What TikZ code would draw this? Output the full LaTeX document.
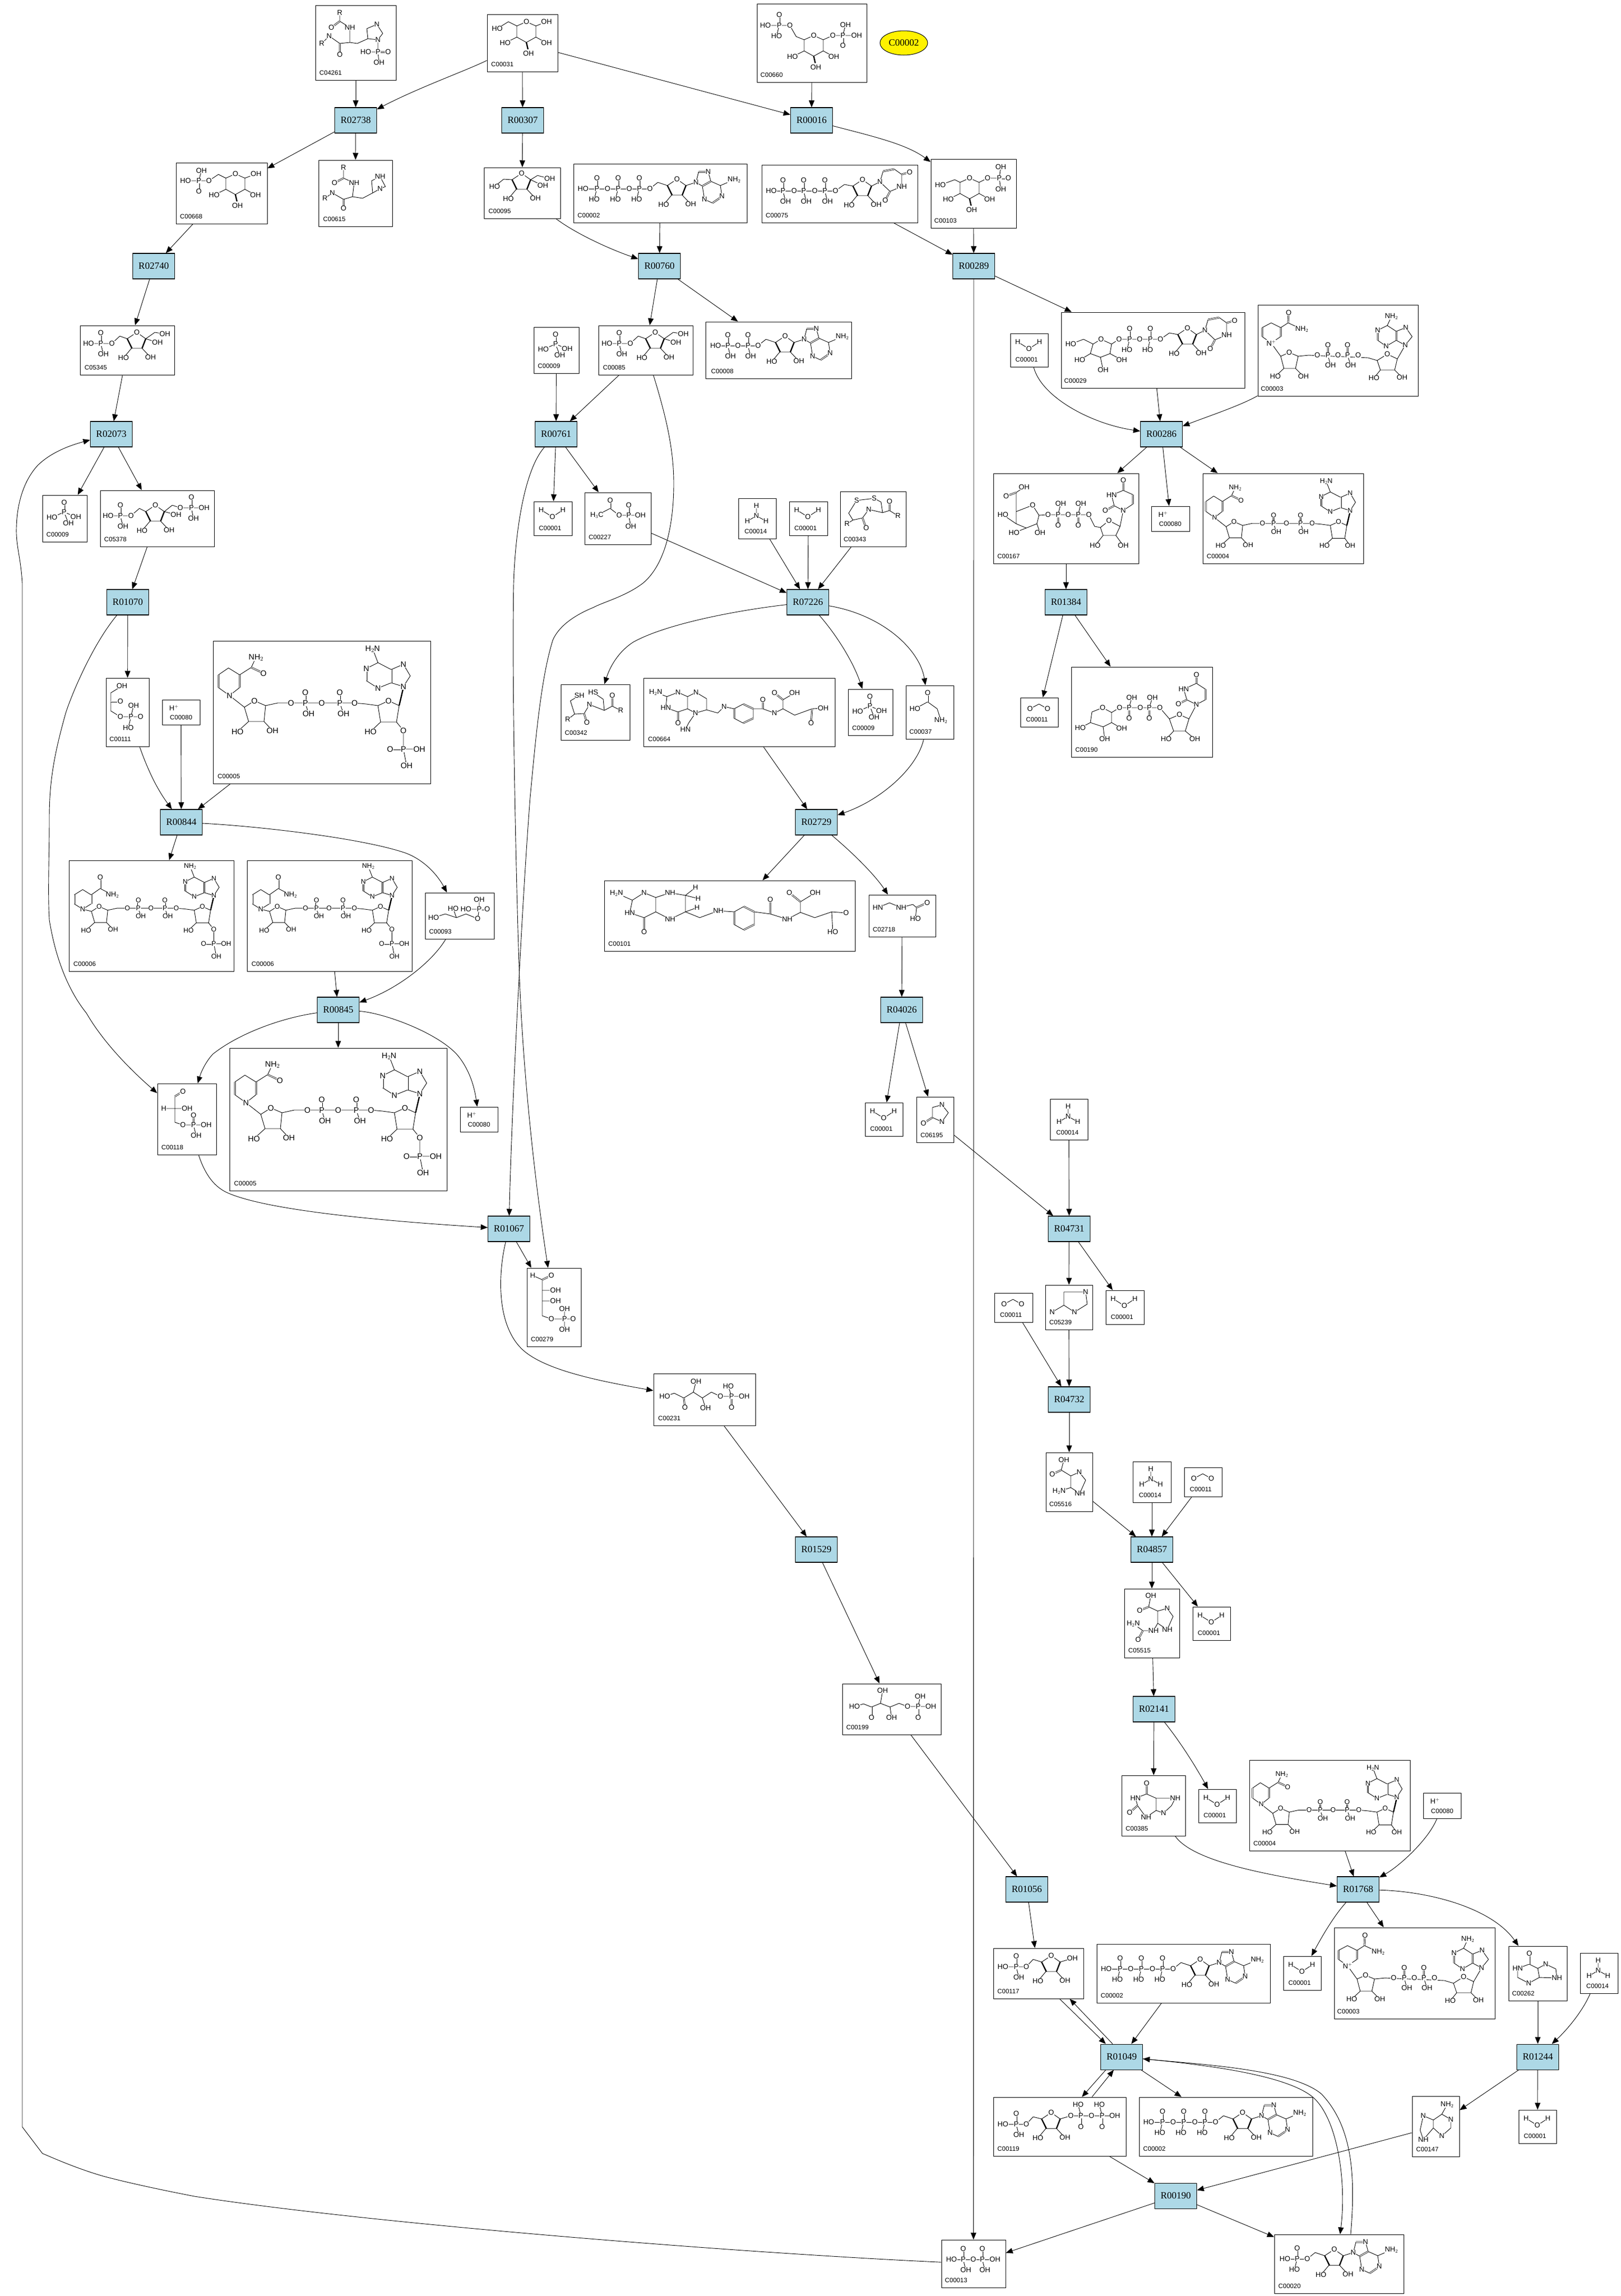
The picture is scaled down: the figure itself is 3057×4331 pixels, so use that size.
\documentclass[tikz,border=0pt]{standalone}
\usepackage{fontspec}
\setmainfont{Liberation Serif}
\setsansfont{Liberation Sans}
\usetikzlibrary{arrows.meta,shapes.geometric}
\newcounter{atomc}
\newcommand{\atomsize}{13.5}
\tikzset{
  rxn/.style={draw,fill=rxnblue,line width=1.1pt,minimum width=79pt,minimum height=48pt,inner sep=0pt,font=\rmfamily\fontsize{18}{20}\selectfont},
  compound/.style={draw,fill=white,line width=1pt,inner sep=0pt},
  idlab/.style={anchor=west,inner sep=0pt,font=\sffamily\fontsize{12}{13}\selectfont},
  atom/.style={transform shape,fill=white,inner sep=.4pt,font=\sffamily\fontsize{\atomsize}{14}\selectfont},
  bond/.style={line width=.9pt},
  dbl/.style={double,double distance=1.4pt,line width=.8pt},
  wedgeb/.style={line width=2.4pt},
  link/.style={->,line width=.9pt}
}
\definecolor{rxnblue}{HTML}{ADD8E6}
% box with its number in the corner
\newcommand{\cpd}[7][8]{%
  \node[compound,minimum width={(#5-#3)*1pt},minimum height={(#6-#4)*1pt}] (#2) at ({(#3+#5)/2},{(#4+#6)/2}) {};
  \node[idlab] (#2id) at ([xshift=#1pt,yshift=14pt]#2.south west) {#7};}
% drawing: origin, scale, bonds, atoms
\newcommand{\mol}[5]{\begin{scope}[shift={(#1,#2)},scale=#3]
  \draw[bond] #4;
  \foreach \ax/\ay/\atxt in {#5} {\stepcounter{atomc}\node[atom] (atom\theatomc) at (\ax,\ay) {\atxt};}
  \end{scope}}
\newcommand{\pgroup}[4]{\mol{#1}{#2}{1}{(0,0)--(#3,20); \draw[dbl] (0,0)--(0,-20)}{0/0/P,0/-20/O,#3/20/#4}}
% Fragments
\newcommand{\pyranose}[2]{\mol{#1}{#2}{1}{(0,0)--(18,8)--(18,29)--(0,39)--(-18,29)--(-18,8)--cycle (18,29)--(38,40) (-18,29)--(-40,40); \draw[wedgeb] (0,39)--(3,52)}{0/0/O,-40/40/HO,38/40/OH,4/60/OH}}
\newcommand{\furanose}[2]{\mol{#1}{#2}{1}{(0,0)--(17,12)--(10,30)--(-10,30)--(-18,12)--cycle (-10,30)--(-25,48) (10,30)--(26,47); \draw[wedgeb] (-18,12)--(-9,30) (17,12)--(10,30)}{0/0/O,-25/48/HO,26/47/OH}}
\newcommand{\adenosine}[2]{\mol{#1}{#2}{1}{(0,0)--(15,-12)--(33,-6) (68,-6)--(87,-12)--(92,-32)--(110,-32)--(115,-14)--(99,-5)--(87,-12) (99,-5)--(103,20)--(118,27)--(136,14)--(133,-6)--(115,-14) (133,-6)--(159,-17); \draw[dbl] (92,-32)--(108,-32) (115,-14)--(99,-5) (118,27)--(134,16)}{0/0/O,87/-12/N,110/-32/N,103/20/N,136/14/N,159/-17/NH$_2$}\furanose{#1+51}{#2-18}}
\newcommand{\uridine}[2]{\mol{#1}{#2}{1}{(0,0)--(17,-12)--(33,-9) (68,-9)--(84,-17) (84,-17)--(90,-37) (111,-41)--(125,-31)--(125,-8)--(103,1)--(84,-17); \draw[dbl] (90,-37)--(111,-41) (103,1)--(94,18) (125,-31)--(140,-35)}{0/0/O,84/-17/N,125/-8/NH,94/18/O,140/-35/O}\furanose{#1+51}{#2-21}}
\newcommand{\nadbody}[1]{\mol{0}{0}{1}{(59,125)--(78,113)--(99,122)--(96,152)--(67,152)--(59,125) (67,152)--(46,171) (96,152)--(112,169) (99,122)--(122,117)--(147,117)--(267,117)--(289,119)--(311,122)--(331,113)--(351,122)--(346,153)--(316,153)--(311,122) (316,153)--(297,171) (351,122)--(359,86)--(372,66)--(359,44)--(336,54)--(336,79)--(359,86) (336,79)--(311,89)--(289,75)--(289,52)--(311,41)--(336,54) (311,41)--(301,15); \draw[wedgeb] (351,122)--(358,92); \draw[dbl] (336,54)--(336,79) (289,75)--(289,52)}{78/113/O,46/171/HO,112/169/OH,147/117/O,205/117/O,267/117/O,331/113/O,297/171/HO,359/86/N,359/44/N,311/89/N,289/52/N,301/15/#1}\pgroup{174}{117}{6}{OH}\pgroup{239}{117}{7}{OH}}
\newcommand{\nadhead}{\mol{0}{0}{1}{(31,103)--(59,125) (50,64)--(29,51)--(10,64) (10,88)--(31,103)--(50,88) (50,64)--(72,50)--(81,31); \draw[dbl] (10,64)--(10,88) (50,64)--(50,88) (72,50)--(95,61)}{31/103/N,81/31/NH$_2$,95/61/O}}
\newcommand{\nadtailP}{\mol{0}{0}{1}{(346,153)--(359,169)--(359,204)--(389,204) (359,204)--(365,235); \draw[dbl] (359,204)--(334,204)}{359/169/O,359/204/P,334/204/O,389/204/OH,365/235/OH}}
\newcommand{\nadtailOH}{\mol{0}{0}{1}{(346,153)--(359,171)}{359/171/OH}}
% Molecules
\newcommand{\molwater}[2]{\mol{#1}{#2}{1}{(14,16)--(35,29)--(55,16)}{14/16/H,35/29/O,55/16/H}}
\newcommand{\molnh}[2]{\mol{#1}{#2}{1}{(34,14)--(34,33)--(17,43) (34,33)--(52,43)}{34/14/H,34/33/N,17/43/H,52/43/H}}
\newcommand{\molcot}[2]{\mol{#1}{#2}{1}{(18,21)--(35,12)--(51,21)}{18/21/O,51/21/O}}
\newcommand{\molpi}[2]{\mol{#1}{#2}{1}{(18,42)--(41,32)--(63,41) (41,32)--(49,53); \draw[dbl] (41,32)--(41,14)}{41/14/O,41/32/P,18/42/HO,63/41/OH,49/53/OH}}
\newcommand{\molhp}[2]{\mol{#1}{#2}{1}{}{22/15/H$^+$}}
\newcommand{\molatp}[2]{\mol{#1}{#2}{1}{(18,47)--(144,47)}{18/47/HO,64/47/O,105/47/O}\pgroup{#1+44}{#2+47}{-5}{HO}\pgroup{#1+84}{#2+47}{-5}{HO}\pgroup{#1+124}{#2+47}{-5}{HO}\adenosine{#1+144}{#2+47}}
\newcommand{\molnadph}[2]{\begin{scope}[shift={(#1,#2)}]\def\atomsize{15}\nadhead\nadbody{H$_2$N}\nadtailP\end{scope}}
\newcommand{\molnadh}[2]{\begin{scope}[shift={(#1-2,#2+3)},scale=.78]\def\atomsize{16.5}\nadhead\nadbody{H$_2$N}\nadtailOH\end{scope}}
\newcommand{\molnadp}[2]{\mol{#1}{#2}{1}{(26,92)--(42,96) (26,55)--(42,65) (10,82)--(26,92)--(42,82) (10,65)--(26,55) (42,65)--(59,53)--(82,65); \draw[dbl] (10,65)--(10,82) (42,65)--(42,82) (59,53)--(59,32)}{26/92/N,59/32/O,82/65/NH$_2$}\begin{scope}[shift={(#1-3,#2)},scale=.77]\def\atomsize{16.5}\nadbody{NH$_2$}\nadtailP\end{scope}}
\newcommand{\molnad}[2]{\mol{#1}{#2}{1}{(25,34)--(43,43) (43,60)--(25,72)--(8,60) (8,43)--(25,34) (43,43)--(57,34)--(83,46) (25,72)--(43,97)--(59,90)--(76,97)--(71,120)--(49,120)--(43,97) (49,120)--(33,135) (71,120)--(86,135) (76,97)--(96,95)--(208,100)--(225,105)--(244,93)--(263,102)--(258,123)--(231,123)--(225,105) (231,123)--(219,138) (258,123)--(272,137) (263,102)--(278,76)--(291,60)--(279,43)--(261,50)--(261,67)--(278,76) (261,67)--(242,78)--(226,67)--(226,48)--(244,39)--(261,50) (244,39)--(252,22) (132,95)--(137,114) (169,95)--(175,114); \draw[dbl] (57,34)--(58,15) (43,43)--(43,60) (8,43)--(8,60) (132,95)--(132,76) (169,95)--(169,76) (261,50)--(261,67) (226,67)--(226,48)}{58/15/O,83/46/NH$_2$,25/72/N$^+$,59/90/O,33/135/HO,86/135/OH,112/95/O,132/95/P,132/76/O,137/114/OH,151/95/O,169/95/P,169/76/O,175/114/OH,189/95/O,244/93/O,219/138/HO,272/137/OH,278/76/N,279/43/N,242/78/N,226/48/N,252/22/NH$_2$}}
\newcommand{\molfrup}[2]{\mol{#1}{#2}{1}{(16,34)--(60,34)--(75,20)--(89,25) (124,25)--(141,13)--(160,16) (124,25)--(146,32)}{16/34/HO,60/34/O,146/32/OH,160/16/OH}\pgroup{#1+39}{#2+34}{5}{OH}\furanose{#1+107}{#2+13}}
\begin{document}
\begin{tikzpicture}[x=1pt,y=-1pt,>={Triangle[length=13pt,width=10.5pt]}]
  \useasboundingbox (0,0) rectangle (3057,4331);
  % Nodes: reactions
  \node[rxn] (R02738) at (671,227) {R02738};
  \node[rxn] (R00307) at (986,227) {R00307};
  \node[rxn] (R00016) at (1531,227) {R00016};
  \node[rxn] (R02740) at (290,502) {R02740};
  \node[rxn] (R00760) at (1244,502) {R00760};
  \node[rxn] (R00289) at (1837,502) {R00289};
  \node[rxn] (R02073) at (210,819) {R02073};
  \node[rxn] (R00761) at (1049,819) {R00761};
  \node[rxn] (R00286) at (2191,819) {R00286};
  \node[rxn] (R01070) at (241,1136) {R01070};
  \node[rxn] (R07226) at (1524,1136) {R07226};
  \node[rxn] (R01384) at (2011,1136) {R01384};
  \node[rxn] (R00844) at (342,1551) {R00844};
  \node[rxn] (R02729) at (1540,1551) {R02729};
  \node[rxn] (R00845) at (638,1905) {R00845};
  \node[rxn] (R04026) at (1701,1905) {R04026};
  \node[rxn] (R01067) at (960,2318) {R01067};
  \node[rxn] (R04731) at (2017,2318) {R04731};
  \node[rxn] (R04732) at (2017,2640) {R04732};
  \node[rxn] (R01529) at (1540,2923) {R01529};
  \node[rxn] (R04857) at (2173,2923) {R04857};
  \node[rxn] (R02141) at (2177,3224) {R02141};
  \node[rxn] (R01056) at (1937,3564) {R01056};
  \node[rxn] (R01768) at (2562,3564) {R01768};
  \node[rxn] (R01049) at (2116,3880) {R01049};
  \node[rxn] (R01244) at (2901,3880) {R01244};
  \node[rxn] (R00190) at (2218,4142) {R00190};
  \node[ellipse,draw,fill=yellow,line width=1pt,minimum width=90pt,minimum height=46pt,inner sep=0pt,font=\rmfamily\fontsize{18}{20}\selectfont] (legend) at (1705,81) {C00002};
  % Nodes: small compounds
  \cpd[10]{C00001a}{1007}{946}{1079}{1010}{C00001}\molwater{1007}{946}
  \cpd[10]{C00001b}{1906}{629}{1977}{692}{C00001}\molwater{1906}{629}
  \cpd[10]{C00001c}{1489}{946}{1561}{1010}{C00001}\molwater{1489}{946}
  \cpd[10]{C00001d}{1632}{2080}{1703}{2143}{C00001}\molwater{1632}{2080}
  \cpd[10]{C00001e}{2086}{2434}{2158}{2498}{C00001}\molwater{2086}{2434}
  \cpd[10]{C00001f}{2250}{3031}{2321}{3094}{C00001}\molwater{2250}{3031}
  \cpd[10]{C00001g}{2261}{3375}{2332}{3438}{C00001}\molwater{2261}{3375}
  \cpd[10]{C00001h}{2421}{3690}{2492}{3754}{C00001}\molwater{2421}{3690}
  \cpd[10]{C00001i}{2865}{3980}{2936}{4043}{C00001}\molwater{2865}{3980}
  \cpd[12]{C00014a}{1393}{940}{1464}{1016}{C00014}\molnh{1393}{940}
  \cpd[12]{C00014b}{1981}{2073}{2052}{2150}{C00014}\molnh{1981}{2073}
  \cpd[12]{C00014c}{2137}{2757}{2209}{2834}{C00014}\molnh{2137}{2757}
  \cpd[12]{C00014d}{2981}{3684}{3052}{3760}{C00014}\molnh{2981}{3684}
  \cpd[11]{C00011a}{1925}{1316}{1996}{1371}{C00011}\molcot{1925}{1316}
  \cpd[11]{C00011b}{1876}{2439}{1948}{2494}{C00011}\molcot{1876}{2439}
  \cpd[11]{C00011c}{2234}{2768}{2305}{2823}{C00011}\molcot{2234}{2768}
  \cpd{C00009a}{1007}{617}{1092}{704}{C00009}\molpi{1007}{617}
  \cpd{C00009b}{80}{934}{164}{1022}{C00009}\molpi{80}{934}
  \cpd{C00009c}{1600}{1300}{1684}{1387}{C00009}\molpi{1600}{1300}
  \cpd[15]{C00080a}{2172}{955}{2244}{1002}{C00080}\molhp{2172}{955}
  \cpd[15]{C00080b}{306}{1320}{377}{1367}{C00080}\molhp{306}{1320}
  \cpd[15]{C00080c}{868}{2088}{939}{2135}{C00080}\molhp{868}{2088}
  \cpd[15]{C00080d}{2685}{3382}{2756}{3430}{C00080}\molhp{2685}{3382}
  % Nodes: nucleotides
  \cpd{C00002a}{1082}{309}{1409}{420}{C00002}\molatp{1082}{309}
  \cpd{C00002b}{2069}{3667}{2396}{3778}{C00002}\molatp{2069}{3667}
  \cpd{C00002c}{2149}{3956}{2476}{4067}{C00002}\molatp{2149}{3956}
  \cpd[11]{C00008}{1331}{607}{1606}{714}{C00008}
  \mol{1331}{607}{1}{(19,45)--(99,45)}{19/45/HO,61/45/O}\pgroup{1331+42}{607+45}{5}{OH}\pgroup{1331+80}{607+45}{5}{OH}\adenosine{1331+99}{607+45}
  \cpd{C00020}{2404}{4215}{2648}{4326}{C00020}
  \mol{2404}{4215}{1}{(20,46)--(62,46)}{20/46/HO}\pgroup{2404+43}{4215+46}{-5}{HO}\adenosine{2404+62}{4215+46}
  \cpd{C00075}{1437}{311}{1731}{420}{C00075}
  \mol{1437}{311}{1}{(18,49)--(139,49)}{18/49/HO,61/49/O,100/49/O}\pgroup{1437+40}{311+49}{5}{OH}\pgroup{1437+79}{311+49}{5}{OH}\pgroup{1437+119}{311+49}{5}{OH}\uridine{1437+139}{311+49}
  \cpd[6]{C00029}{2002}{589}{2348}{732}{C00029}
  \mol{2002}{589}{1}{(18,60)--(42,51)--(60,60)--(75,51)--(95,60)--(92,78)--(74,85)--(55,78)--(60,60) (55,78)--(35,90) (92,78)--(114,90) (74,85)--(79,109) (95,60)--(109,51)--(187,51)}{18/60/HO,75/51/O,35/90/HO,114/90/OH,79/109/OH,109/51/O,148/51/O}\pgroup{2002+129}{589+51}{-5}{HO}\pgroup{2002+168}{589+51}{-5}{HO}\uridine{2002+187}{589+51}
  \cpd[6]{C00003a}{2373}{575}{2675}{747}{C00003}\molnad{2373}{575}
  \cpd[6]{C00003b}{2517}{3636}{2820}{3808}{C00003}\molnad{2517}{3636}
  \cpd[8]{C00004a}{2269}{893}{2572}{1063}{C00004}\molnadh{2269}{893}
  \cpd[8]{C00004b}{2357}{3320}{2660}{3491}{C00004}\molnadh{2357}{3320}
  \cpd[9]{C00005a}{402}{1209}{812}{1478}{C00005}\molnadph{402}{1209}
  \cpd[9]{C00005b}{433}{1977}{843}{2246}{C00005}\molnadph{433}{1977}
  \cpd[9]{C00006a}{130}{1623}{441}{1832}{C00006}\molnadp{130}{1623}
  \cpd[9]{C00006b}{466}{1623}{777}{1832}{C00006}\molnadp{466}{1623}
  \cpd{C00167}{1874}{893}{2148}{1063}{C00167}
  \mol{1874}{893}{1}{(74,60)--(86,79)--(82,95)--(62,103)--(43,95)--(43,72)--(74,60) (43,72)--(43,36)--(58,26) (43,95)--(18,78) (62,103)--(39,112) (82,95)--(88,112) (86,79)--(103,78)--(180,78)--(191,100)--(202,102)--(218,89)--(239,100)--(231,117)--(207,117)--(202,102) (207,117)--(192,136) (231,117)--(245,136) (239,100)--(245,70)--(263,58) (263,40)--(245,32)--(223,41)--(228,61)--(245,70) (122,78)--(127,57) (160,78)--(165,57); \draw[dbl] (43,36)--(24,43) (263,58)--(263,40) (245,32)--(245,13) (228,61)--(211,70) (122,78)--(122,98) (160,78)--(160,98)}{58/26/OH,24/43/O,74/60/O,18/78/HO,39/112/HO,88/112/OH,103/78/O,122/78/P,127/57/OH,122/98/O,141/78/O,160/78/P,165/57/OH,160/98/O,180/78/O,218/89/O,192/136/HO,245/136/OH,245/70/N,245/13/O,223/41/HN,211/70/O}
  \cpd{C00190}{2021}{1258}{2287}{1428}{C00190}
  \mol{2021}{1258}{1}{(59,77)--(76,86)--(76,105)--(60,113)--(36,105)--(39,85)--(59,77) (36,105)--(17,115) (76,105)--(95,116) (60,113)--(63,136) (76,86)--(91,77)--(167,77)--(185,98)--(204,90)--(222,98)--(215,121)--(193,121)--(185,98) (193,121)--(179,136) (215,121)--(233,136) (222,98)--(236,71)--(218,62)--(212,42)--(236,31)--(253,42) (253,62)--(236,71) (109,77)--(114,58) (147,77)--(153,58); \draw[dbl] (218,62)--(202,70) (236,31)--(236,15) (253,42)--(253,62) (109,77)--(109,97) (147,77)--(147,97)}{59/77/O,17/115/HO,95/116/OH,63/136/OH,91/77/O,109/77/P,114/58/OH,109/97/O,130/77/O,147/77/P,153/58/OH,147/97/O,167/77/O,204/90/O,179/136/HO,233/136/OH,236/71/N,202/70/O,212/42/HN,236/15/O}
  % Nodes: sugars
  \cpd{C00031}{919}{27}{1052}{135}{C00031}
  \mol{919}{27}{1}{(19,27)--(40,14)--(56,22) (92,22)--(112,14)}{19/27/HO,112/14/OH}\pyranose{919+74}{27+14}
  \cpd[7]{C00660}{1428}{7}{1635}{155}{C00660}
  \mol{1428}{7}{1}{(16,41)--(62,41)--(74,62)--(89,68) (125,68)--(143,60)--(188,60) (162,60)--(167,40); \draw[dbl] (162,60)--(162,79)}{16/41/HO,62/41/O,143/60/O,162/60/P,167/40/OH,188/60/OH,162/79/O}\pgroup{1428+42}{7+41}{-5}{HO}\pyranose{1428+107}{7+60}
  \cpd{C00668}{332}{307}{504}{422}{C00668}
  \mol{332}{307}{1}{(18,34)--(62,34)--(80,22)--(94,29) (130,29)--(151,21) (43,34)--(48,15); \draw[dbl] (43,34)--(43,54)}{18/34/HO,43/34/P,48/15/OH,43/54/O,62/34/O,151/21/OH}\pyranose{332+112}{307+21}
  \cpd[7]{C00103}{1756}{300}{1917}{430}{C00103}
  \mol{1756}{300}{1}{(18,49)--(45,39)--(55,44) (91,44)--(107,36)--(129,36) (132,15)--(129,36)--(132,57); \draw[dbl] (129,36)--(146,36)}{18/49/HO,107/36/O,129/36/P,132/15/OH,132/57/OH,146/36/O}\pyranose{1756+73}{300+36}
  \cpd[9]{C00095}{913}{316}{1057}{412}{C00095}
  \mol{913}{316}{1}{(20,36)--(37,22)--(53,23) (88,23)--(111,34) (88,23)--(101,15)--(124,21)}{20/36/HO,111/34/OH,124/21/OH}\furanose{913+71}{316+11}
  \cpd[9]{C05345}{151}{614}{329}{707}{C05345}\molfrup{151}{614}
  \cpd[9]{C00085}{1129}{614}{1307}{707}{C00085}\molfrup{1129}{614}
  \cpd{C05378}{189}{925}{404}{1031}{C05378}
  \mol{189}{925}{1}{(15,48)--(58,48)--(74,34)--(86,40) (121,40)--(143,46) (121,40)--(136,28)--(151,33)--(172,33)--(196,33) (172,33)--(176,53); \draw[dbl] (172,33)--(172,13)}{15/48/HO,58/48/O,143/46/OH,151/33/O,172/33/P,172/13/O,196/33/OH,176/53/OH}\pgroup{189+38}{925+48}{5}{OH}\furanose{189+104}{925+28}
  \cpd{C00117}{1874}{3675}{2044}{3770}{C00117}
  \mol{1874}{3675}{1}{(18,35)--(62,35)--(75,21)--(91,26) (126,26)--(149,19)}{18/35/HO,62/35/O,149/19/OH}\pgroup{1874+43}{3675+35}{5}{OH}\furanose{1874+109}{3675+14}
  \cpd{C00119}{1874}{3956}{2124}{4067}{C00119}
  \mol{1874}{3956}{1}{(18,51)--(62,51)--(75,37)--(91,41) (126,41)--(146,35)--(229,35) (165,35)--(160,14) (205,35)--(200,14); \draw[dbl] (165,35)--(165,56) (205,35)--(205,56)}{18/51/HO,62/51/O,146/35/O,165/35/P,160/14/HO,165/56/O,185/35/O,205/35/P,200/14/HO,205/56/O,229/35/OH}\pgroup{1874+43}{3956+51}{5}{OH}\furanose{1874+109}{3956+29}
  % Nodes: the rest
  \cpd{C04261}{595}{10}{747}{151}{C04261}
  \mol{595}{10}{1}{(46,14)--(46,30)--(65,42)--(65,70)--(46,72)--(26,58)--(12,72) (65,70)--(79,72)--(99,63)--(118,65)--(127,53)--(116,36)--(97,44)--(99,63) (118,65)--(118,88)--(95,88) (118,88)--(120,108); \draw[dbl] (46,30)--(30,42) (46,72)--(46,93) (118,88)--(137,88)}{46/14/R,30/42/O,65/42/NH,26/58/N,12/72/R,46/93/O,118/65/N,116/36/N,118/88/P,95/88/HO,137/88/O,120/108/OH}
  \cpd[9]{C00615}{601}{302}{740}{427}{C00615}
  \mol{601}{302}{1}{(47,14)--(47,34)--(67,43)--(64,69)--(47,74)--(26,62)--(12,72) (64,69)--(83,72)--(102,62)--(116,54)--(126,50)--(116,31)--(100,39)--(102,62); \draw[dbl] (47,34)--(30,43) (47,74)--(47,91)}{47/14/R,30/43/O,67/43/NH,26/62/N,12/72/R,47/91/O,116/54/N,116/31/NH}
  \cpd{C00227}{1103}{929}{1228}{1027}{C00227}
  \mol{1103}{929}{1}{(23,43)--(48,30)--(65,43)--(105,43) (83,43)--(87,64); \draw[dbl] (48,30)--(48,15) (83,43)--(83,24)}{23/43/H$_3$C,48/15/O,65/43/O,83/43/P,83/24/O,105/43/OH,87/64/OH}
  \cpd[7]{C00343}{1585}{927}{1709}{1031}{C00343}
  \mol{1585}{927}{1}{(13,61)--(24,54)--(16,41)--(31,17)--(64,13)--(77,20)--(80,40)--(93,36)--(109,46) (24,54)--(42,50)--(54,34)--(80,40); \draw[dbl] (42,50)--(49,69) (93,36)--(93,19)}{31/17/S,64/13/S,13/61/R,49/69/O,54/34/N,93/19/O,109/46/R}
  \cpd[7]{C00111}{200}{1279}{281}{1408}{C00111}
  \mol{200}{1279}{1}{(30,15)--(9,28)--(9,62)--(27,73)--(65,73) (47,73)--(52,52) (47,73)--(42,94); \draw[dbl] (9,44)--(27,44)}{30/15/OH,27/44/O,27/73/O,47/73/P,52/52/OH,65/73/O,42/94/HO}
  \cpd{C00093}{802}{1684}{932}{1771}{C00093}
  \mol{802}{1684}{1}{(16,47)--(38,40)--(59,47)--(77,40)--(99,49)--(102,31)--(77,31) (102,31)--(102,13) (59,47)--(53,30); \draw[dbl] (102,31)--(117,31)}{16/47/HO,53/30/HO,99/49/O,102/31/P,77/31/HO,102/13/OH,117/31/O}
  \cpd{C00118}{297}{2044}{408}{2178}{C00118}
  \mol{297}{2044}{1}{(33,24)--(33,73)--(48,78)--(92,78) (12,47)--(56,47) (68,78)--(73,98); \draw[dbl] (33,24)--(48,15) (68,78)--(68,60)}{48/15/O,12/47/H,56/47/OH,48/78/O,68/78/P,68/60/O,92/78/OH,73/98/OH}
  \cpd{C00342}{1058}{1291}{1188}{1396}{C00342}
  \mol{1058}{1291}{1}{(35,21)--(18,31)--(26,56)--(13,66) (26,56)--(44,55)--(54,38)--(82,49)--(97,41)--(113,49) (82,49)--(80,28)--(61,15); \draw[dbl] (44,55)--(49,72) (97,41)--(97,21)}{35/21/SH,13/66/R,49/72/O,54/38/N,61/15/HS,97/21/O,113/49/R}
  \cpd[9]{C00664}{1214}{1279}{1575}{1408}{C00664}
  \mol{1214}{1279}{1}{(23,27)--(44,35)--(65,27)--(83,35)--(83,58)--(65,64)--(42,56)--(44,35) (83,35)--(99,27)--(119,39)--(119,60)--(98,66)--(83,58) (119,60)--(140,66)--(152,54)--(171,58) (207,58)--(225,58)--(247,66)--(263,58)--(285,70)--(318,58)--(339,57) (263,58)--(263,41)--(285,28) (98,66)--(85,85)--(79,97) (171,58)--(171,76)--(188,85)--(207,76)--(207,58)--(188,49)--cycle; \draw[dbl] (65,64)--(65,85) (225,58)--(225,41) (263,41)--(247,28) (318,58)--(316,85) (171,58)--(171,76) (188,85)--(207,76) (207,58)--(188,49)}{23/27/H$_2$N,65/27/N,42/56/HN,65/85/O,99/27/N,98/66/N,79/97/HN,152/54/N,225/41/O,247/66/N,247/28/O,285/28/OH,339/57/OH,316/85/O}
  \cpd{C00101}{1140}{1661}{1613}{1794}{C00101}
  \mol{1140}{1661}{1}{(23,24)--(53,37)--(75,23)--(97,32)--(97,59)--(75,70)--(48,61)--(53,37) (97,32)--(124,23)--(153,28)--(153,59)--(124,73)--(97,59) (153,28)--(172,13) (153,28)--(177,34) (153,59)--(175,51) (153,59)--(180,70)--(215,57)--(245,59)--(245,83)--(263,93)--(283,83)--(283,59)--(263,49)--(245,59) (283,59)--(313,63)--(345,73)--(370,60)--(397,70)--(429,59)--(456,61) (370,60)--(370,40)--(398,23) (429,59)--(431,97); \draw[dbl] (75,70)--(75,97) (313,63)--(313,36) (370,40)--(349,23) (245,59)--(245,83) (263,93)--(283,83) (283,59)--(263,49)}{23/24/H$_2$N,75/23/N,48/61/HN,75/97/O,124/23/NH,124/73/NH,172/13/H,177/34/H,175/51/H,215/57/NH,313/36/O,345/73/NH,349/23/O,398/23/OH,456/61/O,431/97/HO}
  \cpd{C02718}{1639}{1688}{1765}{1767}{C02718}
  \mol{1639}{1688}{1}{(17,24)--(39,15)--(61,24)--(83,18)--(90,24)--(88,45); \draw[dbl] (90,24)--(110,15)}{17/24/HN,61/24/NH,110/15/O,88/45/HO}
  \cpd[7]{C00037}{1709}{1293}{1799}{1394}{C00037}
  \mol{1709}{1293}{1}{(17,44)--(41,31)--(59,44)--(66,66); \draw[dbl] (41,31)--(41,14)}{41/14/O,17/44/HO,66/66/NH$_2$}
  \cpd{C05239}{1972}{2424}{2061}{2508}{C05239}
  \mol{1972}{2424}{1}{(35,13)--(76,13)--(79,36)--(55,51)--(35,38)--(35,13) (35,38)--(13,51)}{76/13/N,55/51/N,13/51/N}
  \cpd[7]{C05516}{1973}{2740}{2061}{2851}{C05516}
  \mol{1973}{2740}{1}{(34,14)--(29,33)--(47,44)--(63,37)--(75,52)--(64,77)--(47,66)--(47,44) (47,66)--(25,73); \draw[dbl] (29,33)--(12,41)}{34/14/OH,12/41/O,63/37/N,64/77/NH,25/73/H$_2$N}
  \cpd{C05515}{2121}{2997}{2225}{3127}{C05515}
  \mol{2121}{2997}{1}{(50,13)--(46,34)--(63,42)--(81,37)--(92,52)--(81,77)--(63,65)--(63,42) (63,65)--(55,79)--(35,79)--(17,66); \draw[dbl] (46,34)--(29,41) (35,79)--(26,96)}{50/13/OH,29/41/O,81/37/N,81/77/NH,55/79/NH,17/66/H$_2$N,26/96/O}
  \cpd{C00385}{2116}{3349}{2236}{3463}{C00385}
  \mol{2116}{3349}{1}{(47,35)--(26,43)--(30,57)--(46,79)--(65,66)--(65,43)--(47,35) (65,43)--(101,43)--(94,57)--(79,71)--(65,66); \draw[dbl] (47,35)--(47,15) (30,57)--(15,70)}{47/15/O,26/43/HN,15/70/O,46/79/NH,79/71/N,101/43/NH}
  \cpd[7]{C00262}{2846}{3671}{2956}{3774}{C00262}
  \mol{2846}{3671}{1}{(39,34)--(17,42)--(17,59)--(38,70)--(58,59)--(55,42)--(39,34) (55,42)--(70,34)--(89,43)--(91,60)--(58,59); \draw[dbl] (39,34)--(39,14)}{39/14/O,17/42/HN,38/70/N,70/34/N,91/60/NH}
  \cpd{C00147}{2664}{3954}{2753}{4068}{C00147}
  \mol{2664}{3954}{1}{(66,16)--(56,34)--(73,44)--(73,60)--(56,75)--(40,60)--(40,45)--(56,34) (40,60)--(21,82)--(15,64)--(21,37)--(40,45)}{66/16/NH$_2$,73/44/N,56/75/N,21/82/NH,21/37/N}
  \cpd[7]{C00013}{1776}{4225}{1897}{4315}{C00013}
  \mol{1776}{4225}{1}{(19,37)--(101,37)}{19/37/HO,60/37/O,101/37/OH}\pgroup{1776+41}{4225+37}{5}{OH}\pgroup{1776+77}{4225+37}{5}{OH}
  \cpd{C00199}{1589}{3176}{1775}{3272}{C00199}
  \mol{1589}{3176}{1}{(23,43)--(40,38)--(55,44)--(72,37)--(90,44)--(107,37)--(123,43)--(167,43) (72,37)--(76,13) (90,44)--(93,64) (143,43)--(147,24); \draw[dbl] (55,44)--(55,64) (143,43)--(143,64)}{23/43/HO,55/64/O,76/13/OH,93/64/OH,123/43/O,143/43/P,147/24/OH,143/64/O,167/43/OH}
  \cpd[9]{C00231}{1233}{2591}{1425}{2689}{C00231}
  \mol{1233}{2591}{1}{(21,43)--(39,37)--(57,46)--(75,35)--(92,46)--(109,35)--(126,43)--(171,43) (75,35)--(80,15) (92,46)--(98,65) (147,43)--(141,24); \draw[dbl] (57,46)--(59,64) (147,43)--(147,64)}{21/43/HO,59/64/O,80/15/OH,98/65/OH,126/43/O,147/43/P,141/24/HO,147/64/O,171/43/OH}
  \cpd{C00279}{994}{2392}{1096}{2540}{C00279}
  \mol{994}{2392}{1}{(11,14)--(29,22)--(29,90)--(46,96)--(87,96) (29,42)--(54,42) (29,62)--(54,62) (71,96)--(71,77) (71,96)--(71,116); \draw[dbl] (29,22)--(46,14)}{11/14/H,46/14/O,54/42/OH,54/62/OH,46/96/O,71/96/P,71/77/OH,87/96/O,71/116/OH}
  \cpd{C06195}{1729}{2069}{1799}{2155}{C06195}
  \mol{1729}{2069}{1}{(30,20)--(48,15)--(60,30)--(48,47)--(30,39)--(30,20); \draw[dbl] (30,39)--(13,50)}{48/15/N,48/47/N,13/50/O}
  % Arrows: upper part
  \draw[link] (C04261) -- (R02738);
  \draw[link] (C00031) .. controls (880,133) and (790,165) .. (R02738);
  \draw[link] (C00031) -- (R00307);
  \draw[link] (C00031) -- (R00016);
  \draw[link] (C00660) -- (R00016);
  \draw[link] (R00016) .. controls (1650,258) and (1710,272) .. (C00103);
  \draw[link] (R02738) -- (C00668);
  \draw[link] (R02738) -- (C00615);
  \draw[link] (C00668) -- (R02740);
  \draw[link] (R02740) -- (C05345);
  \draw[link] (C05345) -- (R02073);
  \draw[link] (R00307) -- (C00095);
  \draw[link] (C00095) .. controls (1085,440) and (1150,470) .. (R00760);
  \draw[link] (C00002a) -- (R00760);
  \draw[link] (R00760) -- (C00085);
  \draw[link] (R00760) -- (C00008);
  \draw[link] (C00075) -- (R00289);
  \draw[link] (C00103) -- (R00289);
  \draw[link] (R00289) -- (C00013);
  \draw[link] (R00289) -- (C00029);
  \draw[link] (C00029) -- (R00286);
  \draw[link] (C00003a) .. controls (2340,765) and (2280,785) .. (R00286);
  \draw[link] (C00001b) .. controls (1965,750) and (2060,800) .. (R00286);
  \draw[link] (R00286) -- (C00167);
  \draw[link] (R00286) -- (C00080a);
  \draw[link] (R00286) -- (C00004a);
  \draw[link] (C00167) -- (R01384);
  \draw[link] (R01384) -- (C00011a);
  \draw[link] (R01384) -- (C00190);
  \draw[link] (C00009a) -- (R00761);
  \draw[link] (C00085) -- (R00761);
  \draw[link] (C00085) .. controls (1258,790) and (1271,850) .. (1271,912) .. controls (1271,990) and (1255,1065) .. (1213,1100) .. controls (1180,1125) and (1140,1135) .. (1119,1146) .. controls (1085,1160) and (1055,1180) .. (1043,1207) .. controls (1020,1280) and (1010,1400) .. (1000,1505) .. controls (985,1700) and (965,2100) .. (R01067);
  \draw[link] (R00761) .. controls (990,885) and (972,1000) .. (969,1100) .. controls (965,1300) and (975,1700) .. (979,1819) .. controls (985,2000) and (1005,2200) .. (C00279);
  \draw[link] (R00761) -- (C00001a);
  \draw[link] (R00761) -- (C00227);
  \draw[link] (C00227) -- (R07226);
  \draw[link] (C00014a) -- (R07226);
  \draw[link] (C00001c) -- (R07226);
  \draw[link] (C00343) -- (R07226);
  \draw[link] (R07226) .. controls (1400,1150) and (1260,1175) .. (1195,1211) .. controls (1165,1230) and (1150,1260) .. (C00342);
  \draw[link] (R07226) .. controls (1580,1200) and (1610,1250) .. (C00009c);
  \draw[link] (R07226) .. controls (1665,1160) and (1735,1225) .. (C00037);
  \draw[link] (C00664) -- (R02729);
  \draw[link] (C00037) .. controls (1730,1450) and (1660,1510) .. (R02729);
  \draw[link] (R02729) -- (C00101);
  \draw[link] (R02729) .. controls (1610,1610) and (1650,1650) .. (C02718);
  \draw[link] (C02718) -- (R04026);
  \draw[link] (R04026) -- (C00001d);
  \draw[link] (R04026) -- (C06195);
  \draw[link] (C06195) -- (R04731);
  % Arrows: left side
  \draw[link] (R02073) -- (C00009b);
  \draw[link] (R02073) -- (C05378);
  \draw[link] (C05378) -- (R01070);
  \draw[link] (R01070) -- (C00111);
  \draw[link] (R01070) .. controls (175,1215) and (135,1310) .. (124,1345) .. controls (100,1430) and (93,1480) .. (93,1544) .. controls (93,1620) and (90,1680) .. (93,1735) .. controls (105,1810) and (130,1870) .. (163,1911) .. controls (200,1975) and (260,2030) .. (C00118);
  \draw[link] (C00111) .. controls (285,1470) and (305,1500) .. (R00844);
  \draw[link] (C00080b) -- (R00844);
  \draw[link] (C00005a) -- (R00844);
  \draw[link] (R00844) -- (C00006a);
  \draw[link] (R00844) .. controls (480,1558) and (680,1580) .. (765,1609) .. controls (800,1622) and (825,1650) .. (C00093);
  \draw[link] (C00006b) -- (R00845);
  \draw[link] (C00093) .. controls (815,1815) and (750,1865) .. (R00845);
  \draw[link] (R00845) .. controls (530,1920) and (450,1950) .. (402,1988) .. controls (390,2000) and (380,2020) .. (C00118);
  \draw[link] (R00845) -- (C00005b);
  \draw[link] (R00845) .. controls (720,1910) and (820,1945) .. (861,1988) .. controls (885,2015) and (895,2050) .. (C00080c);
  \draw[link] (C00118) .. controls (385,2210) and (400,2235) .. (425,2248) .. controls (500,2285) and (750,2305) .. (R01067);
  \draw[link] (R01067) -- (C00279);
  \draw[link] (R01067) .. controls (940,2400) and (935,2500) .. (987,2547) .. controls (1030,2585) and (1130,2605) .. (C00231);
  \draw[link] (C00231) -- (R01529);
  \draw[link] (R01529) -- (C00199);
  \draw[link] (C00199) -- (R01056);
  \draw[link] (C00013) .. controls (1400,4250) and (700,4195) .. (367,4143) .. controls (300,4130) and (240,4117) .. (195,4105) .. controls (150,4092) and (110,4075) .. (80,4062) -- (42,4012) -- (42,1100) .. controls (39,1050) and (30,1030) .. (31,996) .. controls (32,940) and (50,900) .. (72,877) .. controls (100,850) and (140,838) .. (R02073);
  % Arrows: right side
  \draw[link] (C00014b) -- (R04731);
  \draw[link] (R04731) -- (C05239);
  \draw[link] (R04731) -- (C00001e);
  \draw[link] (C00011b) -- (R04732);
  \draw[link] (C05239) -- (R04732);
  \draw[link] (R04732) -- (C05516);
  \draw[link] (C05516) -- (R04857);
  \draw[link] (C00014c) -- (R04857);
  \draw[link] (C00011c) -- (R04857);
  \draw[link] (R04857) -- (C05515);
  \draw[link] (R04857) -- (C00001f);
  \draw[link] (C05515) -- (R02141);
  \draw[link] (R02141) -- (C00385);
  \draw[link] (R02141) .. controls (2230,3290) and (2260,3340) .. (C00001g);
  \draw[link] (C00385) .. controls (2250,3510) and (2380,3535) .. (R01768);
  \draw[link] (C00004b) -- (R01768);
  \draw[link] (C00080d) .. controls (2695,3470) and (2640,3520) .. (R01768);
  \draw[link] (R01768) .. controls (2515,3615) and (2490,3660) .. (C00001h);
  \draw[link] (R01768) -- (C00003b);
  \draw[link] (R01768) .. controls (2700,3568) and (2815,3600) .. (C00262);
  \draw[link] (C00262) -- (R01244);
  \draw[link] (C00014d) .. controls (2985,3795) and (2955,3830) .. (R01244);
  \draw[link] (R01244) -- (C00147);
  \draw[link] (R01244) -- (C00001i);
  \draw[link] (C00147) -- (R00190);
  \draw[link] (C00119) -- (R00190);
  \draw[link] (R00190) -- (C00013);
  \draw[link] (R00190) -- (C00020);
  \draw[link] (R01056) -- (C00117);
  \draw[link] ([xshift=40pt]C00117.south) -- ([xshift=-30pt]R01049.north);
  \draw[link] ([xshift=-17pt]R01049.north) -- ([xshift=59pt]C00117.south);
  \draw[link] (C00002b) -- (R01049);
  \draw[link] ([xshift=-30pt]R01049.south) -- ([xshift=42pt]C00119.north);
  \draw[link] ([xshift=61pt]C00119.north) -- ([xshift=-15pt]R01049.south);
  \draw[link] (R01049) -- (C00002c);
  \draw[link] ([xshift=22pt]C00020.north) .. controls (2558,4100) and (2550,4010) .. (2493,3950) .. controls (2440,3905) and (2280,3895) .. (R01049);
  \draw[link] (R01049) .. controls (2280,3895) and (2430,3915) .. (2478,3957) .. controls (2525,4000) and (2540,4120) .. ([xshift=2pt]C00020.north);
\end{tikzpicture}
\end{document}
